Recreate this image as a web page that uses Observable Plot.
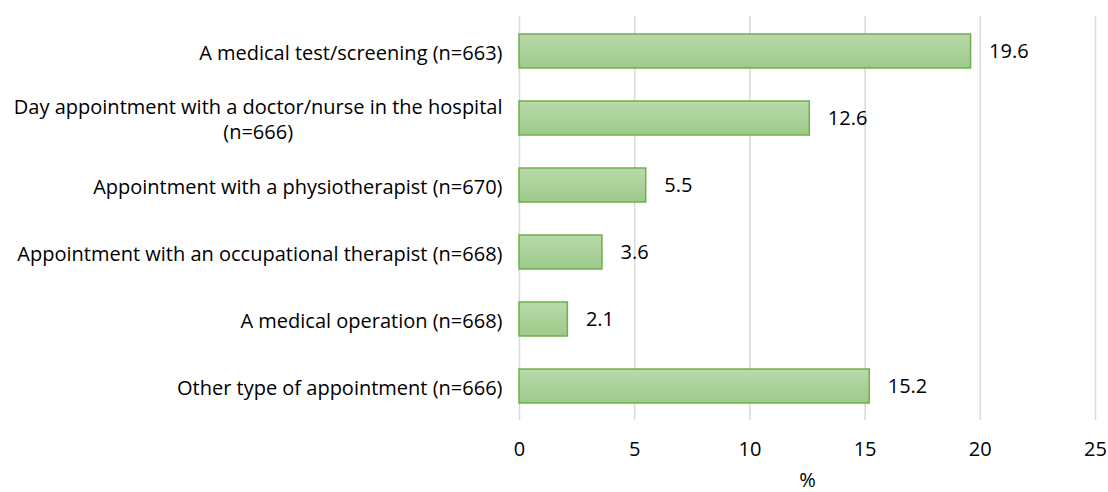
<!DOCTYPE html>
<html>
<head>
<meta charset="utf-8">
<script src="https://cdn.jsdelivr.net/npm/d3@7"></script>
<script src="https://cdn.jsdelivr.net/npm/@observablehq/plot@0.6"></script>
<style>
  html, body { margin: 0; padding: 0; background: #fff; }
  #chart svg { display: block; }
</style>
</head>
<body>
<div id="chart"></div>
<script>
const categories = [
  "A medical test/screening (n=663)",
  "Day appointment with a doctor/nurse in the hospital\n(n=666)",
  "Appointment with a physiotherapist (n=670)",
  "Appointment with an occupational therapist (n=668)",
  "A medical operation (n=668)",
  "Other type of appointment (n=666)"
];
const values = [19.6, 12.6, 5.5, 3.6, 2.1, 15.2];
const xTicks = [0, 5, 10, 15, 20, 25];
const xLabel = "%";

const data = categories.map((c, i) => ({category: c, value: values[i]}));

const font = "'Open Sans', sans-serif";
const fs = 20;

const chart = Plot.plot({
  width: 1108,
  height: 492,
  marginLeft: 519,
  marginRight: 13,
  marginTop: 16,
  marginBottom: 72,
  style: {fontFamily: font, fontSize: fs + "px", color: "#000", background: "#fff"},
  x: {domain: [0, 25], ticks: xTicks, label: null},
  y: {domain: categories, paddingInner: 0.5, paddingOuter: 0.25, label: null},
  marks: [
    Plot.ruleX(xTicks, {stroke: "#d9d9d9", strokeWidth: 1.5}),
    Plot.barX(data, {
      x: "value", y: "category",
      fill: "url(#barGrad)", stroke: "#6fb04a", strokeWidth: 1.5
    }),
    Plot.text(data, {
      x: "value", y: "category", text: d => d.value.toFixed(1),
      textAnchor: "start", dx: 18, fill: "#000", fontSize: fs
    }),
    Plot.axisX({ticks: xTicks, tickSize: 0, tickPadding: 21, fontSize: fs, label: null, fill: "#000"}),
    Plot.axisY({tickSize: 0, tickPadding: 17, fontSize: fs, lineHeight: 1.25, label: null, fill: "#000", lineWidth: 100}),
    Plot.text([xLabel], {frameAnchor: "bottom", dy: 66, fontSize: fs, fill: "#000"})
  ]
});

const defs = d3.create("svg:defs");
const grad = defs.append("linearGradient").attr("id", "barGrad")
  .attr("x1", 0).attr("y1", 0).attr("x2", 0).attr("y2", 1);
grad.append("stop").attr("offset", "0%").attr("stop-color", "#b9d9ab");
grad.append("stop").attr("offset", "100%").attr("stop-color", "#9dca89");
chart.insertBefore(defs.node(), chart.firstChild);

document.getElementById("chart").appendChild(chart);

// Center-align wrapped axis labels (as in the reference)
chart.querySelectorAll("text").forEach(t => {
  const spans = t.querySelectorAll("tspan");
  if (spans.length > 1) {
    const w = t.getBBox().width;
    t.setAttribute("text-anchor", "middle");
    t.style.textAnchor = "middle";
    spans.forEach(s => s.setAttribute("x", -w / 2));
  }
});
</script>
</body>
</html>
